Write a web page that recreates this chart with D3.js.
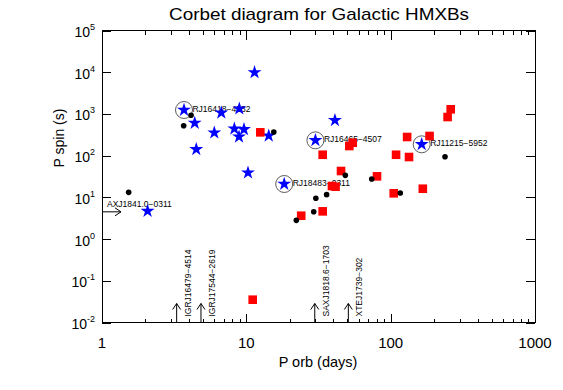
<!DOCTYPE html>
<html>
<head>
<meta charset="utf-8">
<script src="https://cdn.jsdelivr.net/npm/d3@7"></script>
<style>
  body { margin: 0; background: #fff; }
  text { font-family: "Liberation Sans", Arial, sans-serif; fill: #000; }
</style>
</head>
<body>
<div id="chart"></div>
<script>
// [P orb (days), P spin (s)]
const stars = [
  [11.4, 9900], [3.70, 1242], [4.39, 606], [6.71, 1069], [8.94, 1334],
  [6.0, 355], [8.26, 442], [9.63, 427], [8.9, 284], [14.3, 300],
  [4.5, 142], [10.27, 39], [41.1, 703], [30.1, 233], [164, 187],
  [18.3, 20.9], [2.07, 4.7]
]
const squares = [
  [12.5, 362], [260.6, 1291], [248, 843], [130, 280], [186, 296],
  [54.6, 204], [51.7, 170], [33.8, 105], [109, 105], [134, 92.7],
  [45.3, 42.8], [80.4, 31.9], [39.2, 18.7], [41.5, 18.0], [167, 16.1],
  [105, 12.5], [33.8, 4.62], [24.0, 3.63], [11.07, 0.0352]
]
const dots = [
  [4.14, 927], [3.68, 522], [15.5, 369], [238, 94], [48.5, 33.7],
  [73.9, 27.5], [116.6, 12.7], [30.3, 9.5], [36.0, 11.6], [29.3, 4.53],
  [22.2, 2.81], [1.53, 13.2]
]
// circled sources
const circledNames = ["IGRJ16418\u22124532", "IGRJ16465\u22124507", "IGRJ11215\u22125952", "IGRJ18483\u22120311"]
const circledPorb = [3.70, 30.1, 164, 18.3]
const circledPspin = [1242, 233, 187, 20.9]
// sources with only an orbital period
const porbOnlyNames = ["IGRJ16479\u22124514", "IGRJ17544\u22122619", "SAXJ1818.6\u22121703", "XTEJ1739\u2212302"]
const porbOnly = [3.29, 4.85, 29.8, 50.9]
// source with only a spin period
const pspinOnlyName = "AXJ1841.0\u22120311"
const pspinOnly = 4.5

const xTicks = [1, 10, 100, 1000]
const yExp = [-2, -1, 0, 1, 2, 3, 4, 5]

const width = 563
const height = 390
const svg = d3.select("#chart").append("svg")
  .attr("width", width)
  .attr("height", height)

const x = d3.scaleLog().domain([1, 1000]).range([102, 535])
const y = d3.scaleLog().domain([0.01, 1e5]).range([322.5, 30.5])

const minor = []
xTicks.slice(0, 3).forEach(d => { for (let k = 2; k < 10; k++) minor.push(d * k) })

const axes = svg.append("g").attr("shape-rendering", "crispEdges")

// bottom / top, minor then major ticks
axes.append("g").attr("transform", "translate(0," + y(0.01) + ")")
  .call(d3.axisBottom(x).tickValues(minor).tickSize(-4).tickFormat(""))
axes.append("g").attr("transform", "translate(0," + y(0.01) + ")")
  .call(d3.axisBottom(x).tickValues(xTicks).tickSize(-9).tickFormat(""))
axes.append("g").attr("transform", "translate(0," + y(1e5) + ")")
  .call(d3.axisTop(x).tickValues(minor).tickSize(-4).tickFormat(""))
axes.append("g").attr("transform", "translate(0," + y(1e5) + ")")
  .call(d3.axisTop(x).tickValues(xTicks).tickSize(-9).tickFormat(""))
axes.append("g").attr("transform", "translate(" + x(1) + ",0)")
  .call(d3.axisLeft(y).tickValues(yExp.map(e => Math.pow(10, e))).tickSize(-9).tickFormat(""))
axes.append("g").attr("transform", "translate(" + x(1000) + ",0)")
  .call(d3.axisRight(y).tickValues(yExp.map(e => Math.pow(10, e))).tickSize(-9).tickFormat(""))
axes.selectAll(".domain").remove()
axes.selectAll("line").attr("stroke", "#000")

axes.append("rect")
  .attr("x", x(1)).attr("y", y(1e5))
  .attr("width", x(1000) - x(1)).attr("height", y(0.01) - y(1e5))
  .attr("fill", "none").attr("stroke", "#000")

// tick labels
svg.append("g").selectAll("text").data(xTicks).join("text")
  .attr("x", d => x(d)).attr("y", 348)
  .attr("text-anchor", "middle").attr("font-size", 15)
  .text(d => d)

const yl = svg.append("g").selectAll("text").data(yExp).join("text")
  .attr("x", 95).attr("y", d => y(Math.pow(10, d)) + 6.5)
  .attr("text-anchor", "end").attr("font-size", 14)
yl.append("tspan").text("10")
yl.append("tspan").attr("dy", -7).attr("font-size", 9).text(d => d)

// titles
svg.append("text").attr("x", 319).attr("y", 20)
  .attr("text-anchor", "middle").attr("font-size", 17)
  .attr("textLength", 300).attr("lengthAdjust", "spacingAndGlyphs")
  .text("Corbet diagram for Galactic HMXBs")
svg.append("text").attr("x", 318).attr("y", 367)
  .attr("text-anchor", "middle").attr("font-size", 14.5)
  .text("P orb (days)")
svg.append("text").attr("transform", "translate(63.5,138) rotate(-90)")
  .attr("text-anchor", "middle").attr("font-size", 14)
  .text("P spin (s)")

// arrows for sources with one period only
const arrowLen = 19
const ar = svg.append("g").attr("stroke", "#000").attr("fill", "none")
porbOnly.forEach((p, i) => {
  const ax = x(p), ay = y(0.01)
  ar.append("line").attr("x1", ax).attr("x2", ax).attr("y1", ay).attr("y2", ay - arrowLen)
  ar.append("path").attr("d", "M" + (ax - 4) + "," + (ay - arrowLen + 6) + "L" + ax + "," + (ay - arrowLen) + "L" + (ax + 4) + "," + (ay - arrowLen + 6))
  svg.append("text")
    .attr("transform", "translate(" + (ax + 14) + "," + (ay - 6) + ") rotate(-90)")
    .attr("font-size", 8.5)
    .text(porbOnlyNames[i])
})
{
  const ax = x(1), ay = y(pspinOnly)
  ar.append("line").attr("x1", ax).attr("x2", ax + arrowLen).attr("y1", ay).attr("y2", ay)
  ar.append("path").attr("d", "M" + (ax + arrowLen - 6) + "," + (ay - 4) + "L" + (ax + arrowLen) + "," + ay + "L" + (ax + arrowLen - 6) + "," + (ay + 4))
  svg.append("text").attr("x", ax + 5).attr("y", ay - 4.5)
    .attr("font-size", 8.5).text(pspinOnlyName)
}

// labels of circled sources, then circles
svg.append("g").selectAll("text").data(circledNames).join("text")
  .attr("x", (d, i) => x(circledPorb[i]) - 0.5)
  .attr("y", (d, i) => y(circledPspin[i]) + 2)
  .attr("font-size", 8.5)
  .text(d => d)
svg.append("g").selectAll("circle").data(circledPorb).join("circle")
  .attr("cx", d => x(d))
  .attr("cy", (d, i) => y(circledPspin[i]))
  .attr("r", 8.5)
  .attr("fill", "#fff").attr("stroke", "#333").attr("stroke-width", 0.8)

// markers
svg.append("g").selectAll("path").data(stars).join("path")
  .attr("transform", d => "translate(" + x(d[0]) + "," + y(d[1]) + ")")
  .attr("d", d3.symbol(d3.symbolStar, 60))
  .attr("fill", "#0000ff")
svg.append("g").selectAll("rect").data(squares).join("rect")
  .attr("x", d => x(d[0]) - 4.3).attr("y", d => y(d[1]) - 4.3)
  .attr("width", 8.6).attr("height", 8.6)
  .attr("fill", "#ff0000")
svg.append("g").selectAll("circle").data(dots).join("circle")
  .attr("cx", d => x(d[0])).attr("cy", d => y(d[1]))
  .attr("r", 2.8)
  .attr("fill", "#000")
</script>
</body>
</html>
